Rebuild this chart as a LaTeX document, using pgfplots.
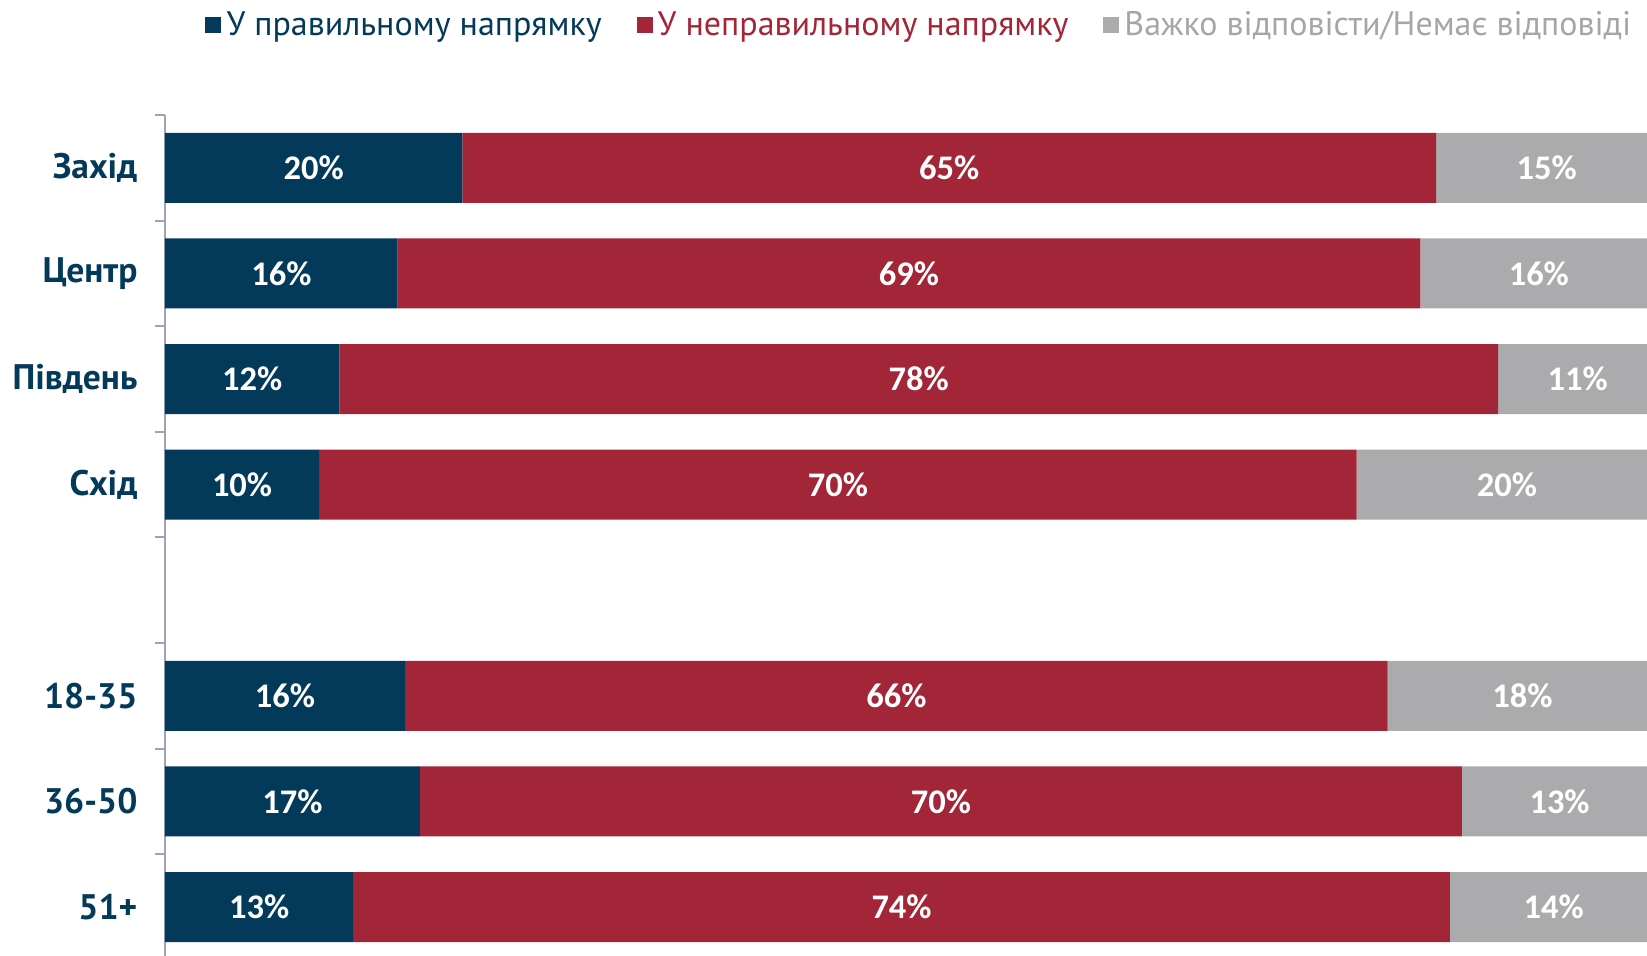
\documentclass[border=0pt]{standalone}
\usepackage{pgfplots}
\pgfplotsset{compat=1.18}
\usepackage{pgfplotstable}
\usepackage{fontspec}
\setmainfont{PT Sans}
\newfontfamily\lblfont{Carlito}

\definecolor{cblue}{HTML}{033A5A}
\definecolor{cred}{HTML}{A32638}
\definecolor{cgray}{HTML}{ABABAD}
\definecolor{cgraytxt}{HTML}{A6A6A6}
\definecolor{caxis}{HTML}{9DA5B4}

\pgfplotstableread{
y a b c la lb lc
0 20.07 65.70 14.23 20 65 15
1 15.70 69.00 15.30 16 69 16
2 11.76 78.20 10.04 12 78 11
3 10.40 70.00 19.60 10 70 20
5 16.20 66.30 17.50 16 66 18
6 17.20 70.30 12.50 17 70 13
7 12.70 74.00 13.30 13 74 14
}\data

\begin{document}
\begin{tikzpicture}
\begin{axis}[
  name=ax,
  scale only axis, width=592.8pt, height=336.4pt,
  xmin=0, xmax=100, ymin=-0.5, ymax=7.464, y dir=reverse,
  xbar stacked, bar width=28pt,
  axis x line=none, axis y line*=left,
  y axis line style={caxis, line width=0.8pt},
  ytick={0,1,2,3,5,6,7},
  yticklabels={Захід,Центр,Південь,Схід,18-35,36-50,51+},
  major tick length=0pt,
  yticklabel style={font=\bfseries\fontsize{14.2}{16}\selectfont, text=cblue, xshift=-7.5pt},
  extra y ticks={-0.5,0.5,...,6.5},
  extra y tick labels={},
  extra y tick style={major tick length=4pt, tick align=outside, tick style={caxis, line width=0.8pt}},
  clip=false,
  legend columns=3,
  legend style={at={(0.027,1.107)}, anchor=west, draw=none, fill=none, inner sep=0pt,
    /tikz/every even column/.style={column sep=12pt},
    font=\fontsize{13.6}{15}\selectfont},
  legend cell align=left,
  legend image code/.code={\fill[#1] (0pt,-3.2pt) rectangle (6.4pt,3.2pt);},
]
\addplot[fill=cblue, draw=none] table[x=a, y=y]{\data};
\addlegendentry{\textcolor{cblue}{У правильному напрямку}}
\addplot[fill=cred, draw=none] table[x=b, y=y]{\data};
\addlegendentry{\textcolor{cred}{У неправильному напрямку}}
\addplot[fill=cgray, draw=none] table[x=c, y=y]{\data};
\addlegendentry{\textcolor{cgraytxt}{Важко відповісти/Немає відповіді}}
\end{axis}
\begin{axis}[
  scale only axis, width=592.8pt, height=336.4pt,
  xmin=0, xmax=100, ymin=-0.5, ymax=7.464, y dir=reverse,
  hide axis, clip=false,
  point meta=explicit symbolic,
  nodes near coords={\pgfplotspointmeta\%},
  every node near coord/.style={anchor=center, text=white, font=\lblfont\bfseries\fontsize{13.8}{15}\selectfont},
]
\addplot[draw=none] table[x expr=\thisrow{a}/2, y=y, meta=la]{\data};
\addplot[draw=none] table[x expr=\thisrow{a}+\thisrow{b}/2, y=y, meta=lb]{\data};
\addplot[draw=none] table[x expr=\thisrow{a}+\thisrow{b}+\thisrow{c}/2+0.35, y=y, meta=lc]{\data};
\end{axis}
\pgfresetboundingbox
\path ([xshift=-66pt]ax.south west) rectangle ([yshift=46pt]ax.north east);
\end{tikzpicture}
\end{document}
